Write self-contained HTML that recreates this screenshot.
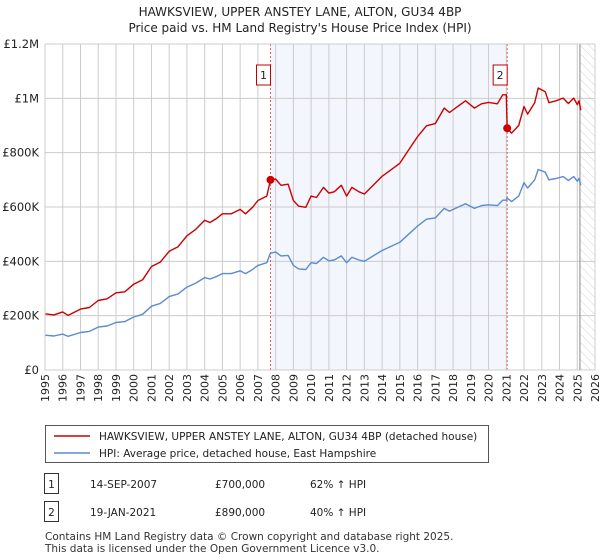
<!DOCTYPE html>
<html><head><meta charset="utf-8"><style>
body{margin:0;background:#fff;font-family:"DejaVu Sans","Liberation Sans",sans-serif;}
#wrap{position:relative;width:600px;height:560px;overflow:hidden;}
svg text{font-family:"DejaVu Sans","Liberation Sans",sans-serif;}
</style></head><body>
<div id="wrap">
<svg id="chart" width="600" height="560"></svg>
</div>
<script>
const years=[1995.0,1995.5,1996.0,1996.3,1997.0,1997.5,1998.0,1998.5,1999.0,1999.5,2000.0,2000.5,2001.0,2001.5,2002.0,2002.5,2003.0,2003.5,2004.0,2004.3,2004.7,2005.0,2005.5,2006.0,2006.3,2006.7,2007.0,2007.5,2007.7,2008.0,2008.3,2008.7,2009.0,2009.3,2009.7,2010.0,2010.3,2010.7,2011.0,2011.3,2011.7,2012.0,2012.3,2012.7,2013.0,2013.5,2014.0,2014.5,2015.0,2015.5,2016.0,2016.5,2017.0,2017.5,2017.8,2018.3,2018.7,2019.2,2019.6,2020.0,2020.5,2020.8,2021.0,2021.05,2021.3,2021.7,2022.0,2022.2,2022.6,2022.8,2023.2,2023.4,2023.8,2024.2,2024.5,2024.8,2025.0,2025.1,2025.2];
const hpiValues=[128,125,132,124,138,142,158,162,175,178,195,205,235,245,270,280,305,320,340,335,345,355,355,365,355,370,385,395,430,434,420,422,385,372,370,395,392,415,402,405,420,395,415,405,400,420,440,455,470,500,530,555,560,595,585,600,612,595,605,608,605,625,625,633,620,640,690,670,700,738,728,700,705,712,698,712,695,705,680];
const priceValues=[207,203,214,201,224,230,256,262,284,288,316,332,381,397,437,454,494,518,551,543,559,575,575,591,575,599,624,640,697,703,680,684,624,603,599,640,635,672,651,656,680,640,672,656,648,680,713,737,761,810,859,899,907,964,948,972,991,964,980,985,980,1013,1013,890,872,900,970,942,984,1038,1024,984,991,1001,981,1001,977,991,956];
const saleYears=[2007.71,2021.05];
const salePrices=[700,890];
const saleLabels=["1","2"];
const yTicks=[0,200,400,600,800,1000,1200];
const yTickLabels=["£0","£200K","£400K","£600K","£800K","£1M","£1.2M"];
const xTicks=[1995,1996,1997,1998,1999,2000,2001,2002,2003,2004,2005,2006,2007,2008,2009,2010,2011,2012,2013,2014,2015,2016,2017,2018,2019,2020,2021,2022,2023,2024,2025,2026];

const X0=45,X1=595,Y0=370,Y1=44;
const xs=v=>X0+(v-1995)/(2026-1995)*(X1-X0);
const ys=v=>Y0-v/1200*(Y0-Y1);
const NS="http://www.w3.org/2000/svg";
const svg=document.getElementById('chart');
function mk(tag,attrs,parent){const e=document.createElementNS(NS,tag);for(const k in attrs)e.setAttribute(k,attrs[k]);(parent||svg).appendChild(e);return e;}

let t=mk('text',{x:300,y:16,'text-anchor':'middle','font-size':12,fill:'#222'});t.textContent="HAWKSVIEW, UPPER ANSTEY LANE, ALTON, GU34 4BP";


t=mk('text',{x:300,y:32,'text-anchor':'middle','font-size':12,fill:'#222'});t.textContent="Price paid vs. HM Land Registry's House Price Index (HPI)";



let sh=mk('rect',{x:xs(saleYears[0]),y:Y1,width:xs(saleYears[1])-xs(saleYears[0]),height:Y0-Y1,fill:'#f3f6fd'});


const defs=mk('defs',{});
const pat=mk('pattern',{id:'hatch',width:6,height:6,patternUnits:'userSpaceOnUse',patternTransform:'rotate(-45)'},defs);
mk('line',{x1:0,y1:0,x2:0,y2:6,stroke:'#d4d4d4','stroke-width':1},pat);
let hx=xs(2025.15);
let hr=mk('rect',{x:hx,y:Y1,width:X1-hx,height:Y0-Y1,fill:'url(#hatch)'});



xTicks.forEach(v=>{const l=mk('line',{x1:xs(v),x2:xs(v),y1:Y1,y2:Y0,stroke:'#cccccc','stroke-width':1});


const tx=mk('text',{transform:`translate(${xs(v)+4},${Y0+4}) rotate(-90)`,'text-anchor':'end','font-size':11,fill:'#222'});tx.textContent=v;

});
yTicks.forEach((v,i)=>{const l=mk('line',{x1:X0,x2:X1,y1:ys(v),y2:ys(v),stroke:'#cccccc','stroke-width':1});


const tx=mk('text',{x:X0-6,y:ys(v)+4,'text-anchor':'end','font-size':11.5,fill:'#222'});tx.textContent=yTickLabels[i];

});
let nl=mk('line',{x1:hx,x2:hx,y1:Y1,y2:Y0,stroke:'#999','stroke-width':1.2});



saleYears.forEach((y,i)=>{const l=mk('line',{x1:xs(y),x2:xs(y),y1:Y1,y2:Y0,stroke:'#e06060','stroke-width':1,'stroke-dasharray':'2,2'});


const g=mk('g',{});


mk('rect',{x:xs(y)-14,y:65,width:14,height:20,fill:'#fff',stroke:'#c00000','stroke-width':1},g);
const tt=mk('text',{x:xs(y)-7,y:79,'text-anchor':'middle','font-size':11,fill:'#222'},g);tt.textContent=saleLabels[i];});

function line(vals,color,name){const d=years.map((y,i)=>(i?'L':'M')+xs(y).toFixed(1)+','+ys(vals[i]).toFixed(1)).join('');
const p=mk('path',{d:d,fill:'none',stroke:color,'stroke-width':1.4,'stroke-linejoin':'round'});

}
line(hpiValues,'#5b8bd0','hpi-line');
line(priceValues,'#cc0000','price-line');
saleYears.forEach((y,i)=>{const c=mk('circle',{cx:xs(y),cy:ys(salePrices[i]),r:4,fill:'#cc0000'});

});
let fr=mk('rect',{x:X0,y:Y1,width:X1-X0,height:Y0-Y1,fill:'none',stroke:'#ccc'});



const lg=mk('g',{});


mk('rect',{x:45.5,y:425.5,width:443,height:37,fill:'#fff',stroke:'#555'},lg);
mk('line',{x1:54,x2:90,y1:436,y2:436,stroke:'#cc0000','stroke-width':1.5},lg);
mk('line',{x1:54,x2:90,y1:453,y2:453,stroke:'#5b8bd0','stroke-width':1.5},lg);
let l1=mk('text',{x:99,y:440,'font-size':10.5,fill:'#222'},lg);l1.textContent="HAWKSVIEW, UPPER ANSTEY LANE, ALTON, GU34 4BP (detached house)";


let l2=mk('text',{x:99,y:457,'font-size':10.5,fill:'#222'},lg);l2.textContent="HPI: Average price, detached house, East Hampshire";



const rows=[["1","14-SEP-2007","£700,000","62% \u2191 HPI"],["2","19-JAN-2021","£890,000","40% \u2191 HPI"]];
rows.forEach((r,i)=>{const y=484+i*28;const g=mk('g',{});


mk('rect',{x:44.5,y:y-10.5,width:14,height:20,fill:'#fff',stroke:'#333'},g);
let a=mk('text',{x:51.5,y:y+4,'text-anchor':'middle','font-size':10.5,fill:'#222'},g);a.textContent=r[0];
let b=mk('text',{x:90,y:y+4,'font-size':10.5,fill:'#222'},g);b.textContent=r[1];
let c=mk('text',{x:215,y:y+4,'font-size':10.5,fill:'#222'},g);c.textContent=r[2];
let d=mk('text',{x:310,y:y+4,'font-size':10.5,fill:'#222'},g);d.textContent=r[3];});
let f1=mk('text',{x:45,y:540,'font-size':10.5,fill:'#333'});f1.textContent="Contains HM Land Registry data \u00a9 Crown copyright and database right 2025.";


let f2=mk('text',{x:45,y:552,'font-size':10.5,fill:'#333'});f2.textContent="This data is licensed under the Open Government Licence v3.0.";


</script>
</body></html>
